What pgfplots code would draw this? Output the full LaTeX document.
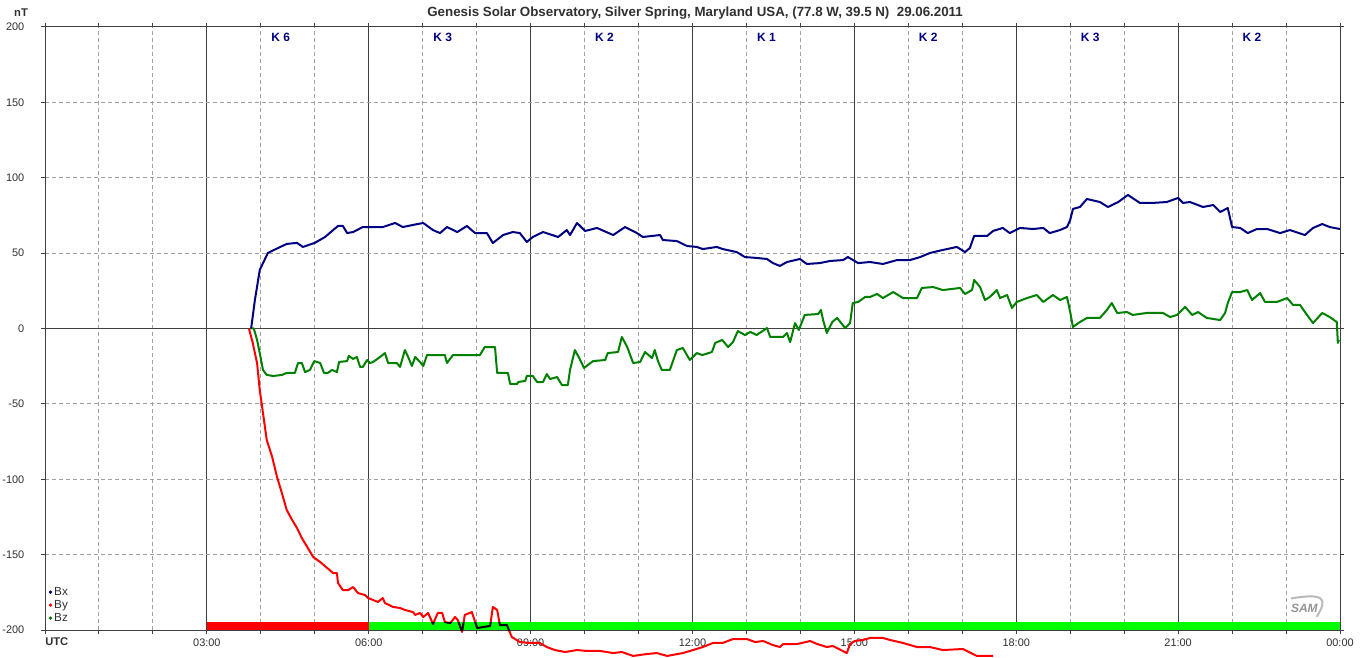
\documentclass[border=0pt]{standalone}
\usepackage{fontspec}
\setmainfont{Liberation Sans}
\usepackage{pgfplots}
\usepackage{pgfplotstable}
\pgfplotsset{compat=1.18}

\definecolor{bxcol}{HTML}{000080}
\definecolor{bycol}{HTML}{FF0000}
\definecolor{bzcol}{HTML}{008000}
\definecolor{kgreen}{HTML}{00FF00}
\definecolor{axgray}{HTML}{404040}
\definecolor{gridgray}{HTML}{A0A0A0}
\definecolor{txtgray}{HTML}{303030}

% hours UTC, nT
\pgfplotstableread{
h nT
3.82 0
3.89 18.9
3.98 38.8
4.13 50.1
4.36 54.1
4.48 56.1
4.67 56.8
4.78 54.1
5.00 56.8
5.19 60.7
5.34 65.3
5.43 68.0
5.52 68.0
5.60 63.3
5.71 64.0
5.89 67.3
6.02 67.3
6.26 67.3
6.49 70.0
6.63 67.3
6.82 68.7
7.01 70.0
7.19 65.3
7.32 63.3
7.45 67.3
7.64 64.0
7.82 68.0
7.97 63.3
8.19 63.3
8.30 56.7
8.49 62.0
8.67 64.0
8.80 63.3
8.93 57.4
9.04 60.7
9.23 64.0
9.51 60.7
9.67 65.3
9.73 62.0
9.86 70.0
10.01 64.7
10.23 66.7
10.53 62.0
10.75 67.3
10.97 63.3
11.08 60.7
11.40 62.0
11.45 58.7
11.71 58.0
11.90 54.7
12.08 54.1
12.19 52.7
12.45 54.1
12.56 52.7
12.82 50.7
12.97 47.4
13.19 46.8
13.38 46.1
13.49 43.4
13.62 41.5
13.75 44.1
13.99 46.1
14.12 42.8
14.36 43.4
14.55 44.8
14.79 45.4
14.88 47.4
15.07 43.4
15.29 44.1
15.53 42.8
15.79 45.4
16.03 45.4
16.22 47.4
16.40 50.1
16.64 52.1
16.90 54.1
17.05 50.7
17.14 53.4
17.22 61.4
17.46 61.4
17.57 64.7
17.75 66.7
17.88 63.3
18.07 66.7
18.31 66.0
18.50 66.7
18.62 63.3
18.81 65.3
18.94 67.3
19.00 72.0
19.05 79.3
19.18 80.6
19.31 85.9
19.55 83.9
19.70 80.6
19.89 83.9
20.07 88.6
20.29 83.3
20.53 83.3
20.79 83.9
21.00 86.6
21.09 83.3
21.22 83.9
21.46 80.6
21.65 81.9
21.78 77.3
21.92 79.9
22.00 67.3
22.15 66.7
22.29 63.3
22.46 66.0
22.65 66.0
22.89 63.3
23.07 65.3
23.35 62.0
23.50 66.7
23.67 69.3
23.81 67.3
24.00 66.0
}\tableBx

\pgfplotstableread{
h nT
3.78 0
3.85 -9.6
3.93 -22.9
3.98 -40.8
4.04 -56.1
4.11 -74.0
4.21 -85.2
4.30 -98.5
4.39 -109.1
4.48 -120.4
4.58 -127.0
4.67 -132.3
4.76 -139.0
4.86 -144.9
4.97 -151.6
5.10 -154.9
5.23 -158.9
5.34 -162.2
5.41 -162.2
5.43 -168.8
5.52 -173.5
5.62 -173.5
5.71 -171.5
5.80 -175.5
5.93 -176.8
5.99 -178.8
6.08 -180.1
6.17 -181.4
6.26 -178.8
6.30 -182.1
6.45 -184.7
6.58 -185.4
6.67 -186.7
6.82 -188.1
6.86 -190.0
6.95 -188.7
7.01 -191.4
7.10 -188.7
7.19 -196.0
7.28 -188.7
7.36 -188.7
7.41 -194.7
7.51 -195.4
7.60 -191.4
7.65 -193.4
7.73 -201.3
7.78 -190.0
7.91 -188.1
8.01 -198.7
8.25 -197.3
8.30 -184.7
8.38 -186.7
8.43 -196.7
8.56 -196.7
8.65 -204.6
8.80 -208.0
8.99 -208.6
9.17 -208.6
9.30 -211.3
9.45 -213.3
9.64 -214.6
9.86 -213.3
10.04 -213.9
10.29 -213.9
10.53 -215.3
10.69 -214.6
10.90 -217.2
11.16 -215.9
11.34 -215.3
11.53 -217.2
11.82 -215.3
12.01 -213.3
12.19 -211.3
12.38 -208.6
12.56 -208.6
12.75 -206.0
13.01 -206.0
13.16 -208.0
13.31 -207.3
13.49 -210.0
13.62 -211.3
13.68 -209.3
13.94 -209.3
14.18 -207.3
14.31 -209.3
14.49 -211.3
14.60 -210.6
14.86 -215.3
14.92 -209.3
15.01 -207.3
15.16 -206.6
15.29 -205.3
15.53 -205.3
15.66 -206.6
15.90 -208.6
16.16 -211.3
16.40 -211.3
16.64 -213.3
17.01 -212.6
17.27 -217.2
17.57 -217.2
}\tableBy

\pgfplotstableread{
h nT
3.80 0
3.87 0
3.93 -7.6
3.98 -16.3
4.04 -27.5
4.11 -30.8
4.23 -31.5
4.39 -30.8
4.48 -29.5
4.63 -29.5
4.69 -22.9
4.76 -22.9
4.82 -28.9
4.91 -27.5
4.99 -21.6
5.10 -22.9
5.17 -29.5
5.24 -29.5
5.32 -27.5
5.41 -28.9
5.45 -22.2
5.60 -21.6
5.63 -18.2
5.71 -20.2
5.78 -18.9
5.84 -25.5
5.89 -25.5
5.97 -20.9
6.02 -22.9
6.08 -22.2
6.21 -18.9
6.30 -16.3
6.36 -22.9
6.52 -22.9
6.58 -25.5
6.67 -14.3
6.73 -18.9
6.80 -24.9
6.86 -18.9
6.95 -22.2
7.01 -24.9
7.08 -17.6
7.41 -17.6
7.45 -22.9
7.56 -17.6
8.06 -17.6
8.15 -12.3
8.34 -12.3
8.38 -29.5
8.58 -29.5
8.62 -36.8
8.75 -36.8
8.77 -35.5
8.90 -34.8
8.93 -31.5
9.04 -31.5
9.12 -35.5
9.23 -35.5
9.30 -30.2
9.36 -33.5
9.49 -32.2
9.58 -37.5
9.69 -37.5
9.73 -27.5
9.82 -14.3
9.91 -20.2
9.99 -26.2
10.06 -24.2
10.16 -21.6
10.38 -20.9
10.43 -16.3
10.62 -15.6
10.69 -5.6
10.79 -12.3
10.90 -22.9
11.03 -22.2
11.12 -15.6
11.25 -19.6
11.30 -14.3
11.36 -21.6
11.43 -27.5
11.58 -27.5
11.71 -14.3
11.82 -12.9
11.95 -20.9
12.08 -16.3
12.18 -17.6
12.36 -15.6
12.42 -9.6
12.55 -7.6
12.66 -12.3
12.75 -9.0
12.84 -1.7
12.97 -4.3
13.07 -2.3
13.19 -4.3
13.38 0.3
13.44 -5.6
13.68 -5.6
13.75 -3.0
13.81 -9.0
13.90 3.6
13.97 -1.0
14.08 9.0
14.33 9.6
14.38 12.3
14.42 5.6
14.49 -3.0
14.59 4.3
14.68 7.0
14.83 0.3
14.92 3.6
14.97 16.9
15.07 17.6
15.20 20.9
15.29 20.9
15.42 22.9
15.53 20.2
15.72 24.2
15.90 20.2
16.16 20.2
16.25 26.9
16.46 27.5
16.64 25.5
16.96 26.9
17.05 22.9
17.18 25.5
17.22 32.2
17.33 27.5
17.42 18.9
17.51 20.9
17.64 25.5
17.70 20.2
17.83 22.2
17.92 13.6
18.01 17.6
18.20 20.2
18.38 22.2
18.50 17.6
18.68 22.2
18.81 18.9
18.94 20.9
19.00 10.9
19.05 1.0
19.18 4.3
19.31 7.0
19.55 7.0
19.68 12.3
19.77 16.9
19.87 10.3
20.05 10.9
20.16 9.0
20.42 10.3
20.72 10.3
20.85 7.6
20.98 9.0
21.13 14.3
21.26 9.0
21.37 10.9
21.53 7.0
21.78 5.6
21.87 10.3
21.92 16.9
22.00 24.2
22.15 24.2
22.28 25.5
22.37 18.9
22.52 23.5
22.61 17.6
22.83 17.6
23.02 20.2
23.13 15.6
23.26 15.6
23.35 10.9
23.50 3.6
23.67 10.3
23.81 7.6
23.94 4.3
23.96 -9.6
23.98 -7.6
}\tableBz

\begin{document}
\begin{tikzpicture}
\begin{axis}[
  name=main, at={(0pt,0pt)}, anchor=south west,
  scale only axis, width=971.25pt, height=452.25pt,
  xmin=0, xmax=24, ymin=-200, ymax=200,
  clip=false,
  axis line style={axgray, line width=0.75pt},
  xtick={0,3,...,24},
  xticklabels={,03:00,06:00,09:00,12:00,15:00,18:00,21:00,00:00},
  minor xtick={1,2,4,5,7,8,10,11,13,14,16,17,19,20,22,23},
  ytick={-200,-150,...,200},
  xmajorgrids, xminorgrids, ymajorgrids,
  major x grid style={axgray, line width=0.75pt},
  minor x grid style={gridgray, dash pattern=on 3pt off 2.25pt, line width=0.75pt},
  major y grid style={gridgray, dash pattern=on 3pt off 2.25pt, line width=0.75pt},
  tick align=outside,
  major tick length=3pt, minor tick length=3pt,
  every tick/.style={axgray, line width=0.75pt},
  every minor tick/.style={axgray, line width=0.75pt},
  tick label style={font=\fontsize{8.2pt}{10pt}\selectfont, text=txtgray},
  /pgf/number format/assume math mode=true,
  yticklabel style={xshift=-9pt},
  legend style={at={(0.0027,0.0085)}, anchor=south west, draw=none, fill=none,
    inner sep=0pt, row sep=0pt,
    font=\fontsize{8.8pt}{9.75pt}\selectfont, text=txtgray,
    nodes={inner sep=0pt, text height=7.5pt, text depth=2.25pt}},
  legend cell align=left,
  legend image code/.code={\fill[#1] (0pt,0pt) circle (1.1pt);},
]
\addlegendimage{bxcol}
\addlegendentry{\,Bx}
\addlegendimage{bycol}
\addlegendentry{\,By}
\addlegendimage{bzcol}
\addlegendentry{\,Bz}

\addplot[axgray, line width=0.75pt, forget plot] coordinates {(0,0) (24,0)};

\addplot[bycol, line width=1.5pt, line join=round, forget plot] table[x=h, y=nT] {\tableBy};

% K-index bar
\addplot[fill=red, draw=none, forget plot] coordinates {(3,-200) (6,-200) (6,-195) (3,-195)} -- cycle;
\addplot[fill=kgreen, draw=none, forget plot] coordinates {(6,-200) (24,-200) (24,-195) (6,-195)} -- cycle;

\addplot[bzcol, line width=1.5pt, line join=round, forget plot] table[x=h, y=nT] {\tableBz};
\addplot[bxcol, line width=1.5pt, line join=round, forget plot] table[x=h, y=nT] {\tableBx};

\node[anchor=west, inner sep=0pt, font=\fontsize{8.4pt}{10pt}\selectfont\bfseries, text=txtgray]
  at (axis cs:0,-200) [yshift=-9pt] {UTC};
\node[font=\fontsize{8.4pt}{10pt}\selectfont\bfseries, text=txtgray]
  at (rel axis cs:0,1) [xshift=-18pt, yshift=10.5pt] {nT};
\node[font=\fontsize{10pt}{12pt}\selectfont\bfseries, text=txtgray]
  at (rel axis cs:0.502,1) [yshift=10.5pt]
  {Genesis Solar Observatory, Silver Spring, Maryland USA, (77.8 W, 39.5 N)\ \ 29.06.2011};

\foreach \kx/\kv in {4.37/6, 7.37/3, 10.37/2, 13.37/1, 16.37/2, 19.37/3, 22.37/2}{
  \edef\temp{\noexpand\node[font=\noexpand\fontsize{9pt}{10pt}\noexpand\selectfont\noexpand\bfseries, text=bxcol]
    at (axis cs:\kx,200) [yshift=-7.5pt] {K \kv};}
  \temp
}

\node[font=\fontsize{9pt}{9pt}\selectfont\bfseries\itshape, text=gray!85, inner sep=0pt] (sam)
  at (rel axis cs:0.9725,0.036) {SAM};
\end{axis}

% red trace shown black where it crosses the green bar
\begin{axis}[
  at={(242.8125pt,0pt)}, anchor=south west,
  scale only axis, width=728.4375pt, height=5.653pt,
  xmin=6, xmax=24, ymin=-200, ymax=-195,
  axis lines=none, clip=true,
]
\addplot[black, line width=1.5pt, line join=round] table[x=h, y=nT] {\tableBy};
\end{axis}

\draw[gray!55, line width=1.5pt]
  ([xshift=-10pt, yshift=4pt]sam.north) .. controls ([xshift=14pt, yshift=8pt]sam.north)
  and ([xshift=8pt, yshift=8pt]sam.east) .. ([xshift=-1pt, yshift=-3pt]sam.south east);

\pgfresetboundingbox
\path[use as bounding box] (-33.75pt,-20.25pt) rectangle (986.25pt,472.5pt);
\end{tikzpicture}
\end{document}
